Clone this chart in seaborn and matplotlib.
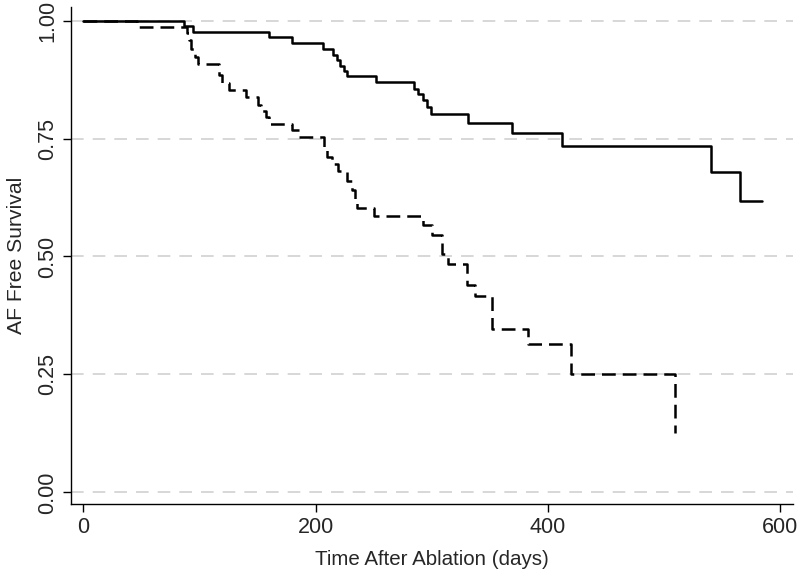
import numpy as np
import pandas as pd
import matplotlib
matplotlib.use("Agg")
import matplotlib.pyplot as plt
import seaborn as sns

# Kaplan-Meier estimates (days, survival after the event)
solid_days = [0, 87, 94, 160, 180, 206, 215, 218, 221, 224, 227, 252, 285, 288,
              292, 296, 299, 331, 369, 412, 540, 565, 584]
solid_surv = [1.0, 0.989, 0.976, 0.966, 0.952, 0.940, 0.928, 0.916, 0.904, 0.894,
              0.882, 0.869, 0.856, 0.844, 0.832, 0.818, 0.802, 0.784, 0.762, 0.735,
              0.679, 0.617, 0.617]

dashed_days = [0, 46, 89, 91, 93, 96, 99, 117, 119, 125, 140, 150, 153, 157, 160,
               180, 186, 207, 210, 214, 219, 227, 231, 234, 236, 250, 292, 300, 309,
               314, 330, 337, 352, 383, 420, 509]
dashed_surv = [1.0, 0.987, 0.974, 0.958, 0.940, 0.924, 0.908, 0.884, 0.867, 0.852,
               0.838, 0.822, 0.808, 0.795, 0.781, 0.768, 0.754, 0.725, 0.710, 0.697,
               0.682, 0.661, 0.640, 0.620, 0.602, 0.585, 0.566, 0.545, 0.506, 0.484,
               0.439, 0.417, 0.347, 0.315, 0.251, 0.126]

x_ticks = [0, 200, 400, 600]
y_ticks = [0.0, 0.25, 0.5, 0.75, 1.0]

df = pd.concat([
    pd.DataFrame({"days": solid_days, "surv": solid_surv, "curve": "solid"}),
    pd.DataFrame({"days": dashed_days, "surv": dashed_surv, "curve": "dashed"}),
], ignore_index=True)

sns.set_style("white")
plt.rcParams["font.family"] = ["Liberation Sans", "DejaVu Sans"]

fig = plt.figure(figsize=(8, 5.77), dpi=100)
ax = fig.add_axes([0.0888, 0.1265, 0.9025, 0.8614])

# grid lines
for yv in y_ticks:
    ax.axhline(yv, color="#d4d4d4", lw=1.3, dashes=(7, 5), zorder=0)

sns.lineplot(data=df, x="days", y="surv", style="curve",
             dashes={"solid": "", "dashed": (5.5, 2.8)},
             color="black", lw=1.8, drawstyle="steps-post",
             estimator=None, sort=False, legend=False, ax=ax)

ax.set_xlim(-10.6, 611)
ax.set_ylim(-0.0248, 1.029)
ax.set_xticks(x_ticks)
ax.set_yticks(y_ticks)
ax.set_yticklabels([f"{v:.2f}" for v in y_ticks], rotation=90, va="center")

sns.despine(ax=ax)
for side in ["left", "bottom"]:
    ax.spines[side].set_color("black")
    ax.spines[side].set_linewidth(1.0)

ax.tick_params(axis="both", which="major", direction="out", length=6, width=1,
               color="black", labelsize=15.5, pad=3, left=True, bottom=True)
ax.set_xlabel("Time After Ablation (days)", fontsize=14.8, labelpad=9)
ax.set_ylabel("AF Free Survival", fontsize=15.2, labelpad=8)

fig.savefig("out.png", dpi=100)
